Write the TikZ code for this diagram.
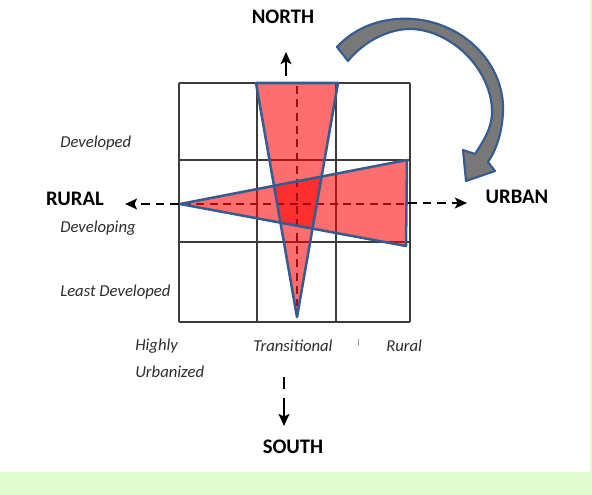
\documentclass[tikz,border=0pt]{standalone}
\usepackage{fontspec}
\setmainfont{Carlito}
\usetikzlibrary{arrows.meta}
\definecolor{tribl}{RGB}{52,92,145}
\definecolor{gridc}{RGB}{60,60,60}
\definecolor{dred}{RGB}{160,15,15}
\definecolor{bgreen}{RGB}{226,251,208}
\definecolor{agray}{RGB}{120,120,120}
\definecolor{labc}{RGB}{45,45,45}
\tikzset{
  gridline/.style={draw=gridc, line width=1pt},
  tri/.style={fill=red, fill opacity=0.57, draw=none},
  triedge/.style={draw=tribl, line width=1.9pt, line join=round},
  reddash/.style={draw=dred, line width=1.6pt, dash pattern=on 6pt off 4pt},
  blackdash/.style={draw=black, line width=1.9pt, dash pattern=on 6.5pt off 4.5pt, -{Stealth[length=9pt,width=8pt,inset=2pt]}},
  solidarrow/.style={draw=black, line width=1.9pt, -{Stealth[length=9pt,width=8pt,inset=2pt]}},
  bigcap/.style={font=\bfseries\fontsize{15.5}{18}\selectfont, text=black, inner sep=0pt},
  lab/.style={font=\itshape\fontsize{12.5}{15}\selectfont, text=labc, inner sep=0pt, anchor=west},
  turnarrow/.style={fill=agray, draw=tribl, line width=1.6pt, line join=round}
}
\begin{document}
\begin{tikzpicture}[x=0.75pt,y=-0.75pt]
\useasboundingbox (0,0) rectangle (592,495);
\fill[white] (0,0) rectangle (592,495);
% green border bands
\fill[bgreen] (0,472) rectangle (592,495);
\fill[bgreen] (590,0) rectangle (592,495);

% grid
\foreach \gx in {179,257,336,410} \draw[gridline] (\gx,83) -- (\gx,322);
\foreach \gy in {83,160,242,322} \draw[gridline] (179,\gy) -- (410,\gy);

% triangle points
\coordinate (vtl) at (256,83);
\coordinate (vtr) at (338,83);
\coordinate (vb) at (297,317);
\coordinate (hl) at (180,204);
\coordinate (htr) at (407,160);
\coordinate (hbr) at (406,246);

% fills
\path[tri] (vtl) -- (vtr) -- (vb) -- cycle;
\path[tri] (hl) -- (htr) -- (hbr) -- cycle;

% red dashed axes
\coordinate (rvt) at (297,86);
\coordinate (rvb) at (297,306);
\coordinate (rhl) at (183,204);
\coordinate (rhr) at (404,204);
\draw[reddash] (rvt) -- (rvb);
\draw[reddash] (rhl) -- (rhr);

% triangle outlines
\draw[triedge] (vtl) -- (vtr) -- (vb) -- cycle;
\draw[triedge] (hl) -- (htr) -- (hbr) -- cycle;

% black axis arrows
\coordinate (lstart) at (179,204);
\coordinate (ltip) at (125,204);
\coordinate (rstart) at (408,203);
\coordinate (rtip) at (467,203);
\draw[blackdash] (lstart) -- (ltip);
\draw[blackdash] (rstart) -- (rtip);
\coordinate (nstart) at (286,76);
\coordinate (ntip) at (286,52);
\draw[solidarrow] (nstart) -- (ntip);
\coordinate (sd1) at (284,377);
\coordinate (sd2) at (284,389);
\coordinate (sstart) at (284,398);
\coordinate (stip) at (284,426);
\draw[draw=black, line width=1.9pt] (sd1) -- (sd2);
\draw[solidarrow] (sstart) -- (stip);

% curved turning arrow
\path[turnarrow] (337,47) .. controls (358,24) and (388,17) .. (413,19)
  .. controls (465,23) and (505,65) .. (503,112)
  .. controls (502,134) and (496,150) .. (488,162)
  -- (495,171) -- (466,181) -- (463,150) -- (475,154)
  .. controls (484,140) and (492,128) .. (492,112)
  .. controls (492,72) and (455,32) .. (413,29)
  .. controls (390,28) and (364,41) .. (348,61) -- cycle;

% stray tick
\draw[gray!70, line width=0.6pt] (358,339) -- (358,346);

% labels
\node[bigcap] (north) at (283,17) {NORTH};
\node[bigcap] (south) at (293,447) {SOUTH};
\node[bigcap] (rural) at (75,199) {RURAL};
\node[bigcap] (urban) at (517,197) {URBAN};
\node[lab] (dev) at (60,143) {Developed};
\node[lab] (deving) at (60,228) {Developing};
\node[lab] (least) at (60,292) {Least Developed};
\node[lab] (highly) at (135,346) {Highly};
\node[lab] (urbz) at (135,372) {Urbanized};
\node[lab] (trans) at (253,346) {Transitional};
\node[lab] (rur) at (386,346) {Rural};
\end{tikzpicture}
\end{document}
